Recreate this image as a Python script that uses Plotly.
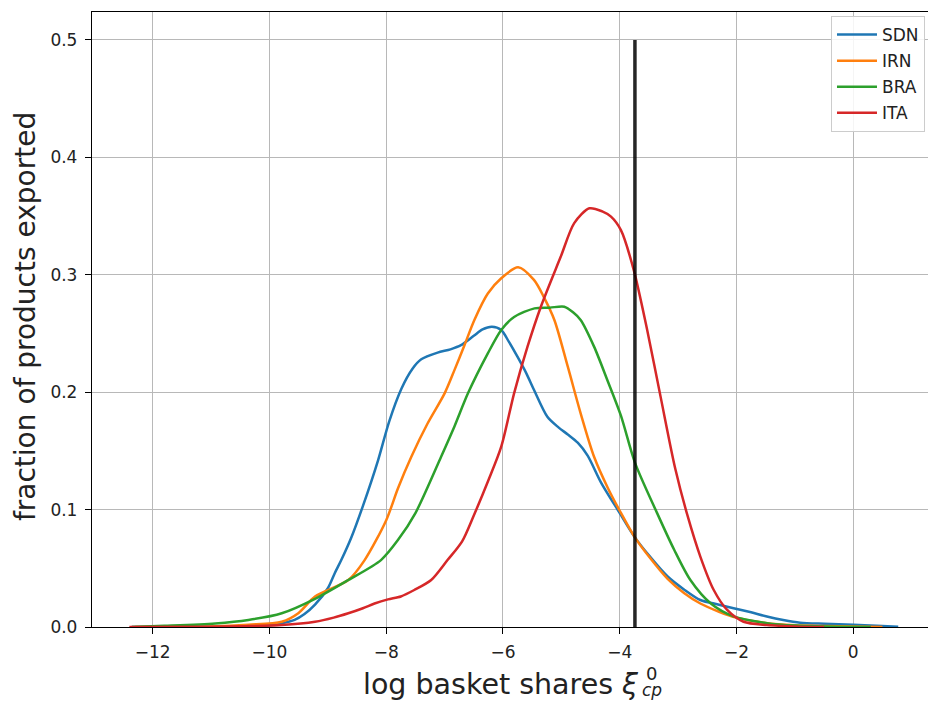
import plotly.graph_objects as go

# ---------------- data ----------------
sdn_x = [-12.36, -11.0, -10.4, -10.0, -9.8, -9.57, -9.4, -9.22, -9.0, -8.88, -8.77, -8.6, -8.4, -8.14,
         -7.95, -7.74, -7.55, -7.40, -7.12, -6.9, -6.72, -6.5, -6.35, -6.19, -6.03, -5.9, -5.75, -5.6,
         -5.47, -5.24, -5.05, -4.89, -4.72, -4.55, -4.32, -4.0, -3.75, -3.5, -3.18, -2.9, -2.62, -2.3,
         -2.05, -1.75, -1.48, -1.2, -0.91, -0.5, 0.0, 0.4, 0.77]
sdn_y = [0.0, 0.0003, 0.0007, 0.0015, 0.003, 0.006, 0.011, 0.019, 0.033, 0.046, 0.057, 0.076, 0.103, 0.142,
         0.175, 0.203, 0.220, 0.228, 0.2337, 0.2365, 0.240, 0.248, 0.2535, 0.2558, 0.253, 0.243, 0.230, 0.216,
         0.202, 0.179, 0.170, 0.164, 0.157, 0.146, 0.123, 0.097, 0.077, 0.061, 0.043, 0.032, 0.023, 0.019,
         0.016, 0.0125, 0.009, 0.006, 0.0037, 0.0028, 0.002, 0.001, 0.0003]

irn_x = [-12.3, -11.0, -10.36, -9.79, -9.5, -9.22, -8.65, -8.37, -8.0, -7.8, -7.57, -7.29, -7.0, -6.83,
         -6.66, -6.49, -6.26, -6.03, -5.74, -5.47, -5.30, -5.12, -4.89, -4.67, -4.44, -4.2, -4.0, -3.75,
         -3.5, -3.18, -2.9, -2.62, -2.3, -2.0, -1.5, -1.0, -0.5, 0.0, 0.5]
irn_y = [0.0, 0.0005, 0.002, 0.0045, 0.012, 0.026, 0.040, 0.057, 0.091, 0.118, 0.145, 0.1735, 0.199, 0.219,
         0.240, 0.2615, 0.284, 0.297, 0.3064, 0.2956, 0.281, 0.2615, 0.2217, 0.182, 0.145, 0.118, 0.099, 0.077,
         0.060, 0.041, 0.029, 0.020, 0.013, 0.008, 0.0035, 0.0015, 0.0008, 0.0004, 0.0]

bra_x = [-12.36, -11.8, -10.93, -10.36, -9.79, -9.22, -8.65, -8.09, -7.8, -7.5, -7.06, -6.83, -6.60,
         -6.26, -6.03, -5.81, -5.46, -5.2, -4.95, -4.8, -4.67, -4.44, -4.21, -3.98, -3.74, -3.36,
         -3.07, -2.79, -2.44, -2.05, -1.48, -1.0, -0.5, 0.3]
bra_y = [0.0, 0.001, 0.003, 0.006, 0.0117, 0.024, 0.040, 0.057, 0.074, 0.097, 0.145, 0.171, 0.199,
         0.233, 0.253, 0.264, 0.2714, 0.272, 0.2728, 0.268, 0.2615, 0.2388, 0.210, 0.180, 0.140, 0.097,
         0.066, 0.040, 0.020, 0.009, 0.0033, 0.0012, 0.0004, 0.0]

ita_x = [-12.4, -11.0, -10.4, -9.79, -9.22, -8.9, -8.65, -8.4, -8.2, -7.97, -7.75, -7.52, -7.23, -6.95,
         -6.7, -6.5, -6.25, -6.03, -5.81, -5.58, -5.35, -5.01, -4.78, -4.52, -4.3, -4.15, -3.98, -3.76,
         -3.53, -3.30, -3.05, -2.84, -2.62, -2.39, -2.16, -1.88, -1.48, -1.0, -0.5]
ita_y = [0.0, 0.0003, 0.0007, 0.0017, 0.0045, 0.008, 0.0117, 0.016, 0.020, 0.0235, 0.026, 0.0315, 0.040, 0.057,
         0.073, 0.095, 0.125, 0.1536, 0.199, 0.2387, 0.273, 0.3155, 0.344, 0.3566, 0.354, 0.3495, 0.338, 0.304,
         0.253, 0.196, 0.135, 0.095, 0.060, 0.0315, 0.0145, 0.0045, 0.0017, 0.0005, 0.0]

threshold_x = -3.74
threshold_y = [0.0, 0.5]

series_names = ["SDN", "IRN", "BRA", "ITA"]
series_colors = ["#1f77b4", "#ff7f0e", "#2ca02c", "#d62728"]

x_ticks = [-12, -10, -8, -6, -4, -2, 0]
y_ticks = [0.0, 0.1, 0.2, 0.3, 0.4, 0.5]

# ---------------- figure ----------------
FONT = "DejaVu Sans"
fig = go.Figure()
for name, color, xs, ys in zip(series_names, series_colors,
                               [sdn_x, irn_x, bra_x, ita_x],
                               [sdn_y, irn_y, bra_y, ita_y]):
    fig.add_trace(go.Scatter(x=xs, y=ys, mode="lines", name=name, legendgroup=name,
                             line=dict(color=color, width=2.5, shape="spline", smoothing=0.8)))

fig.add_trace(go.Scatter(x=[threshold_x, threshold_x], y=threshold_y, mode="lines",
                         line=dict(color="rgba(0,0,0,0.85)", width=3.5), showlegend=False))

axis_common = dict(showline=True, linecolor="black", linewidth=1.3,
                   ticks="outside", ticklen=6, tickwidth=1.3, tickcolor="black",
                   showgrid=True, gridcolor="#b8b8b8", gridwidth=1, zeroline=False,
                   tickfont=dict(family=FONT, size=17, color="#222"))

fig.update_layout(
    width=928, height=701,
    margin=dict(l=92, r=0, t=12, b=74),
    plot_bgcolor="white", paper_bgcolor="white",
    showlegend=True,
    legend=dict(x=0.9964, y=0.9935, xanchor="right", yanchor="top",
                bgcolor="rgba(255,255,255,0.85)", bordercolor="#cccccc", borderwidth=1,
                font=dict(family=FONT, size=17, color="#222"),
                traceorder="grouped", tracegroupgap=1, itemwidth=40),
    xaxis=dict(range=[-13.04, 1.28], tickvals=x_ticks, mirror=True, ticklabelstandoff=3, **axis_common),
    yaxis=dict(range=[0, 0.5238], tickvals=y_ticks, tickformat=".1f", ticklabelstandoff=4, **axis_common),
    annotations=[
        dict(text="fraction of products exported", xref="paper", yref="paper", x=-0.0801, y=0.504,
             xanchor="center", yanchor="middle", textangle=-90, showarrow=False,
             font=dict(family=FONT, size=28, color="#222")),
        dict(text="log basket shares <i>ξ</i>", xref="paper", yref="paper", x=0.6567, y=-0.0937,
             xanchor="right", yanchor="middle", showarrow=False,
             font=dict(family=FONT, size=28.5, color="#222")),
        dict(text="0", xref="paper", yref="paper", x=0.6610, y=-0.0764,
             xanchor="left", yanchor="middle", showarrow=False, borderpad=0,
             font=dict(family=FONT, size=18, color="#222")),
        dict(text="<i>cp</i>", xref="paper", yref="paper", x=0.6567, y=-0.1203,
             xanchor="left", yanchor="bottom", showarrow=False, borderpad=0,
             font=dict(family=FONT, size=17, color="#222")),
    ],
)

fig.write_html("out.html")
